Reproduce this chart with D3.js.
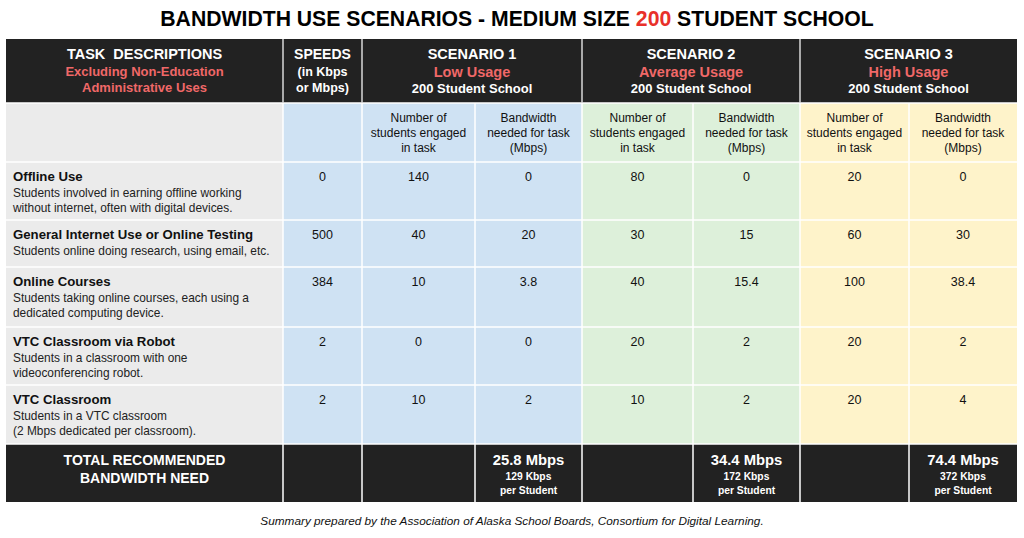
<!DOCTYPE html>
<html>
<head>
<meta charset="utf-8">
<script src="https://cdn.jsdelivr.net/npm/d3@7"></script>
<style>
  body { margin: 0; background: #fff; }
  svg text { font-family: "Liberation Sans", Arial, Helvetica, sans-serif; }
</style>
</head>
<body>
<div id="chart"></div>
<script>
// Table content
const tasks = ['Offline Use', 'General Internet Use or Online Testing', 'Online Courses', 'VTC Classroom via Robot', 'VTC Classroom'];
const taskNotes = [
    ['Students involved in earning offline working', 'without internet, often with digital devices.'],
    ['Students online doing research, using email, etc.'],
    ['Students taking online courses, each using a', 'dedicated computing device.'],
    ['Students in a classroom with one', 'videoconferencing robot.'],
    ['Students in a VTC classroom', '(2 Mbps dedicated per classroom).']
];
const speeds = [0, 500, 384, 2, 2];
const scenarios = ['SCENARIO 1', 'SCENARIO 2', 'SCENARIO 3'];
const usages = ['Low Usage', 'Average Usage', 'High Usage'];
const students = [
    [140, 40, 10, 0, 10],
    [80, 30, 40, 20, 10],
    [20, 60, 100, 20, 20]
];
const bandwidth = [
    [0, 20, 3.8, 0, 2],
    [0, 15, 15.4, 2, 2],
    [0, 30, 38.4, 2, 4]
];
const totalMbps = [25.8, 34.4, 74.4];
const perStudentKbps = [129, 172, 372];

const width = 1024;
const height = 538;

const dark = '#222222';
const red = '#f06868';
const fills = ['#ebebeb', '#cfe2f3', '#cfe2f3', '#cfe2f3', '#ddf0da', '#ddf0da', '#fef3ca', '#fef3ca'];

// Column and row layout (widths in px)
const colWidths = [277, 79, 113, 107, 111, 107, 109, 108];
const rowHeights = [64, 59, 58, 47, 60, 58, 59, 58];
const colEdges = [0, ...d3.cumsum(colWidths)];
const rowEdges = [0, ...d3.cumsum(rowHeights)];

const x = d3.scaleLinear().domain([0, colEdges[colEdges.length - 1]]).range([6, 6 + colEdges[colEdges.length - 1]]);
const y = d3.scaleLinear().domain([0, rowEdges[rowEdges.length - 1]]).range([39, 39 + rowEdges[rowEdges.length - 1]]);

const colX0 = i => x(colEdges[i]);
const colX1 = i => x(colEdges[i + 1]);
const colMid = i => (colX0(i) + colX1(i)) / 2;
const rowY0 = i => y(rowEdges[i]);
const rowY1 = i => y(rowEdges[i + 1]);

const svg = d3.select('#chart')
    .append('svg')
    .attr('width', width)
    .attr('height', height);

// Title
const title = svg.append('text')
    .attr('x', 517)
    .attr('y', 26)
    .attr('text-anchor', 'middle')
    .attr('font-size', 21.2)
    .attr('font-weight', 'bold')
    .attr('fill', '#000');
title.append('tspan').text('BANDWIDTH USE SCENARIOS - MEDIUM SIZE ');
title.append('tspan').attr('fill', '#e8302a').text('200');
title.append('tspan').text(' STUDENT SCHOOL');

// Body cells (subheader + task rows)
const bodyRows = d3.range(1, 7);
bodyRows.forEach(r => {
    d3.range(8).forEach(c => {
        svg.append('rect')
            .attr('x', colX0(c))
            .attr('y', rowY0(r))
            .attr('width', colX1(c) - colX0(c))
            .attr('height', rowY1(r) - rowY0(r))
            .attr('fill', fills[c]);
    });
});

// Dark header and total rows
[0, 7].forEach(r => {
    svg.append('rect')
        .attr('x', colX0(0))
        .attr('y', rowY0(r))
        .attr('width', colX1(7) - colX0(0))
        .attr('height', rowY1(r) - rowY0(r))
        .attr('fill', dark);
});

// Grid lines
const lineColor = '#ffffff';
// horizontal lines in the body
d3.range(1, 8).forEach(r => {
    svg.append('line')
        .attr('x1', colX0(0)).attr('x2', colX1(7))
        .attr('y1', rowY0(r)).attr('y2', rowY0(r))
        .attr('stroke', lineColor).attr('stroke-width', 1.5);
});
// vertical lines: body rows
d3.range(1, 8).forEach(c => {
    svg.append('line')
        .attr('x1', colX0(c)).attr('x2', colX0(c))
        .attr('y1', rowY0(1)).attr('y2', rowY1(7))
        .attr('stroke', lineColor).attr('stroke-width', 1.5);
});
// vertical lines in header (only main groups)
[1, 2, 4, 6].forEach(c => {
    svg.append('line')
        .attr('x1', colX0(c)).attr('x2', colX0(c))
        .attr('y1', rowY0(0)).attr('y2', rowY1(0))
        .attr('stroke', '#d8d8d8').attr('stroke-width', 1.5);
});

// Helper for text
function label(xp, yp, txt, opts = {}) {
    return svg.append('text')
        .attr('x', xp)
        .attr('y', yp)
        .attr('text-anchor', opts.anchor || 'middle')
        .attr('font-size', opts.size || 12)
        .attr('font-weight', opts.weight || 'normal')
        .attr('font-style', opts.style || 'normal')
        .attr('fill', opts.fill || '#111')
        .text(txt);
}

// Header row
const hTop = rowY0(0);
label(colMid(0), hTop + 20, 'TASK  DESCRIPTIONS', { size: 14.5, weight: 'bold', fill: '#fff' }).style('white-space', 'pre');
label(colMid(0), hTop + 37, 'Excluding Non-Education', { size: 13, weight: 'bold', fill: red });
label(colMid(0), hTop + 53, 'Administrative Uses', { size: 13, weight: 'bold', fill: red });

label(colMid(1), hTop + 20, 'SPEEDS', { size: 14, weight: 'bold', fill: '#fff' });
label(colMid(1), hTop + 37, '(in Kbps', { size: 12.5, weight: 'bold', fill: '#fff' });
label(colMid(1), hTop + 53, 'or Mbps)', { size: 12.5, weight: 'bold', fill: '#fff' });

scenarios.forEach((s, i) => {
    const cx = (colX0(2 + i * 2) + colX1(3 + i * 2)) / 2;
    label(cx, hTop + 20, s, { size: 14.5, weight: 'bold', fill: '#fff' });
    label(cx, hTop + 38, usages[i], { size: 14.5, weight: 'bold', fill: red });
    label(cx, hTop + 54, '200 Student School', { size: 13, weight: 'bold', fill: '#fff' });
});

// Subheader row
const sTop = rowY0(1);
d3.range(3).forEach(i => {
    const c1 = 2 + i * 2;
    const c2 = 3 + i * 2;
    ['Number of', 'students engaged', 'in task'].forEach((t, k) => {
        label(colMid(c1), sTop + 19 + k * 15, t, { size: 12 });
    });
    ['Bandwidth', 'needed for task', '(Mbps)'].forEach((t, k) => {
        label(colMid(c2), sTop + 19 + k * 15, t, { size: 12 });
    });
});

// Task rows
tasks.forEach((t, j) => {
    const top = rowY0(2 + j);
    label(13, top + 19, t, { anchor: 'start', size: 13.2, weight: 'bold' });
    taskNotes[j].forEach((n, k) => {
        label(13, top + 35 + k * 15, n, { anchor: 'start', size: 11.9, fill: '#222' });
    });
    label(colMid(1), top + 19, speeds[j], { size: 12.5 });
    d3.range(3).forEach(i => {
        label(colMid(2 + i * 2), top + 19, students[i][j], { size: 12.5 });
        label(colMid(3 + i * 2), top + 19, bandwidth[i][j], { size: 12.5 });
    });
});

// Total row
const tTop = rowY0(7);
label(colMid(0), tTop + 21, 'TOTAL RECOMMENDED', { size: 14, weight: 'bold', fill: '#fff' });
label(colMid(0), tTop + 39, 'BANDWIDTH NEED', { size: 14, weight: 'bold', fill: '#fff' });
d3.range(3).forEach(i => {
    const cx = colMid(3 + i * 2);
    label(cx, tTop + 21, `${totalMbps[i]} Mbps`, { size: 14.8, weight: 'bold', fill: '#fff' });
    label(cx, tTop + 36, `${perStudentKbps[i]} Kbps`, { size: 10.3, weight: 'bold', fill: '#fff' });
    label(cx, tTop + 50, 'per Student', { size: 10.3, weight: 'bold', fill: '#fff' });
});

// Footnote
label(512, 525, 'Summary prepared by the Association of Alaska School Boards, Consortium for Digital Learning.', { size: 11.8, style: 'italic', fill: '#111' });
</script>
</body>
</html>
